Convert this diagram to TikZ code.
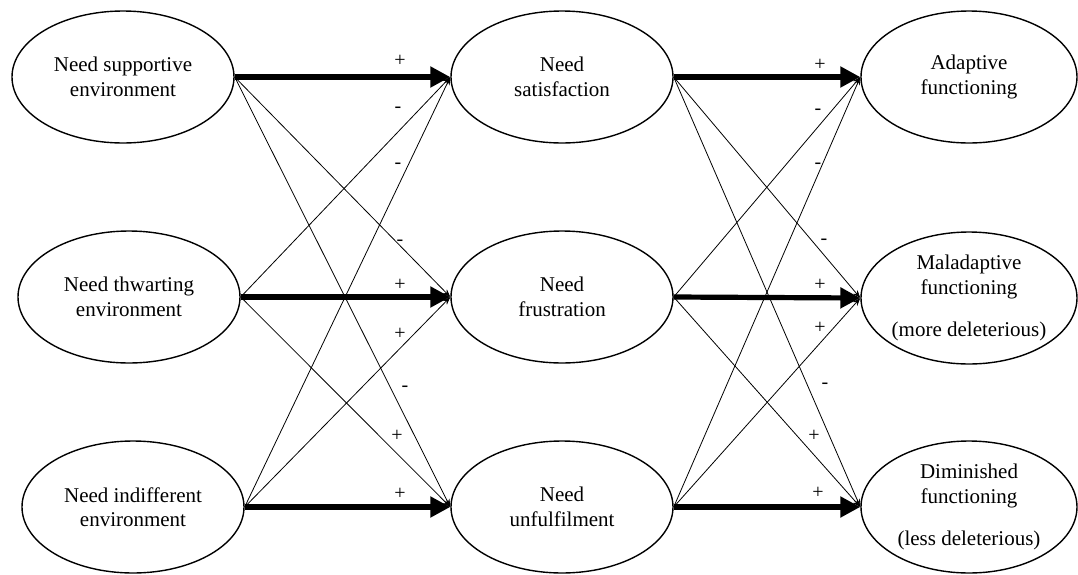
\documentclass[tikz,border=0pt]{standalone}
\usepackage{fontspec}
\setmainfont{Liberation Serif}
\usetikzlibrary{shapes.geometric}
\usetikzlibrary{arrows.meta}

\begin{document}
\begin{tikzpicture}[x=0.5pt,y=-0.5pt,
    blob/.style={draw,ellipse,line width=0.7pt,minimum width=111pt,minimum height=66pt,inner sep=0pt},
    txt/.style={align=center,font=\fontsize{10.5}{12.2}\selectfont},
    strong/.style={line width=2.6pt,-{Triangle[length=10pt,width=10pt]}},
    weak/.style={line width=0.4pt,-{Stealth[length=4pt,width=3pt]}},
    sign/.style={font=\fontsize{10}{10}\selectfont,inner sep=0pt}]
            \useasboundingbox (0,0) rectangle (1078,574);
            \node[blob,label={[txt]center:{Need supportive\\environment}}] (sup) at (123,77) {};
            \node[blob,label={[txt]center:{Need thwarting\\environment}}] (thw) at (129,297) {};
            \node[blob,label={[txt]center:{Need indifferent\\environment}}] (ind) at (133,507) {};
            \node[blob,label={[txt]center:{Need\\satisfaction}}] (sat) at (562,77) {};
            \node[blob,label={[txt]center:{Need\\frustration}}] (fru) at (562,297) {};
            \node[blob,label={[txt]center:{Need\\unfulfilment}}] (unf) at (562,507) {};
            \node[blob,minimum width=108pt,label={[txt]center:{Adaptive\\functioning}}] (ada) at (969,77) {};
            \node[blob,minimum width=108pt,label={[txt]center:{Maladaptive\\functioning\\[9pt](more deleterious)}}] (mal) at (969,298) {};
            \node[blob,minimum width=108pt,label={[txt]center:{Diminished\\functioning\\[9pt](less deleterious)}}] (dim) at (969,507) {};
            \draw[strong] (sup.east) -- (sat.west);
            \draw[weak] (sup.east) -- (fru.west);
            \draw[weak] (sup.east) -- (unf.west);
            \draw[weak] (thw.east) -- (sat.west);
            \draw[strong] (thw.east) -- (fru.west);
            \draw[weak] (thw.east) -- (unf.west);
            \draw[weak] (ind.east) -- (sat.west);
            \draw[weak] (ind.east) -- (fru.west);
            \draw[strong] (ind.east) -- (unf.west);
            \draw[strong] (sat.east) -- (ada.west);
            \draw[weak] (sat.east) -- (mal.west);
            \draw[weak] (sat.east) -- (dim.west);
            \draw[weak] (fru.east) -- (ada.west);
            \draw[strong] (fru.east) -- (mal.west);
            \draw[weak] (fru.east) -- (dim.west);
            \draw[weak] (unf.east) -- (ada.west);
            \draw[weak] (unf.east) -- (mal.west);
            \draw[strong] (unf.east) -- (dim.west);
            \node[sign] (a1) at (400,61) {+};
            \node[sign] (a2) at (398,110) {-};
            \node[sign] (a3) at (398,166) {-};
            \node[sign] (a4) at (400,243) {-};
            \node[sign] (a5) at (400,285) {+};
            \node[sign] (a6) at (400,334) {+};
            \node[sign] (a7) at (405,389) {-};
            \node[sign] (a8) at (397,436) {+};
            \node[sign] (a9) at (400,494) {+};
            \node[sign] (b1) at (820,65) {+};
            \node[sign] (b2) at (818,112) {-};
            \node[sign] (b3) at (818,166) {-};
            \node[sign] (b4) at (824,242) {-};
            \node[sign] (b5) at (820,285) {+};
            \node[sign] (b6) at (820,328) {+};
            \node[sign] (b7) at (825,386) {-};
            \node[sign] (b8) at (814,436) {+};
            \node[sign] (b9) at (818,493) {+};
        \end{tikzpicture}
\end{document}
